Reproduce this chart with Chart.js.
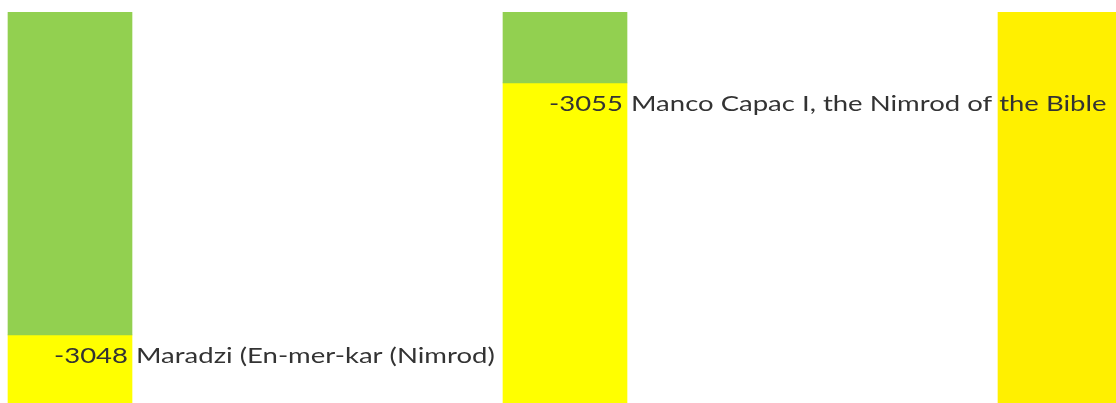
<!DOCTYPE html>
<html>
<head>
<meta charset="utf-8">
<script src="https://cdn.jsdelivr.net/npm/chart.js@4"></script>
<style>
  html, body { margin: 0; padding: 0; background: #ffffff; }
  #wrap { width: 1116px; height: 403px; position: relative; }
</style>
</head>
<body>
<div id="wrap"><canvas id="c"></canvas></div>
<script>
// Columns (timeline tracks) and periods (years, negative = BC)
const columns = [0, 1, 2];
const greenPeriods = [[-3060, -3048], [-3060, -3055]];      // columns 0 and 1
const yellowPeriods = [[-3048, -3040], [-3055, -3040]];     // columns 0 and 1
const goldPeriods = [[-3060, -3040]];                       // column 2
const eventYears = [-3048, -3055];
const eventColumns = [0, 1];
const eventNames = ["Maradzi (En-mer-kar (Nimrod)", "Manco Capac I, the Nimrod of the Bible"];

const BAR_W = 124;
const TEXT_SX = 1.25;

function toData(cols, periods) {
  return periods.map((p, i) => ({ x: cols[i], y: p }));
}

const labelPlugin = {
  id: 'eventLabels',
  afterDatasetsDraw(chart) {
    const ctx = chart.ctx;
    const xs = chart.scales.x, ys = chart.scales.y;
    eventYears.forEach((yr, i) => {
      const right = xs.getPixelForValue(columns[eventColumns[i]]) + BAR_W / 2;
      const y = ys.getPixelForValue(yr) + 28;
      ctx.save();
      ctx.font = '22px Lato';
      ctx.fillStyle = '#333333';
      ctx.textBaseline = 'alphabetic';
      ctx.translate(right, y);
      ctx.scale(TEXT_SX, 1);
      ctx.textAlign = 'right';
      ctx.fillText(String(yr), -4 / TEXT_SX, 0);
      ctx.textAlign = 'left';
      ctx.fillText(eventNames[i], 4 / TEXT_SX, 0);
      ctx.restore();
    });
  }
};

new Chart(document.getElementById('c'), {
  type: 'bar',
  data: {
    datasets: [
      { label: 'green', data: toData([columns[0], columns[1]], greenPeriods), backgroundColor: '#92D050' },
      { label: 'yellow', data: toData([columns[0], columns[1]], yellowPeriods), backgroundColor: '#FFFF00' },
      { label: 'gold', data: toData([columns[2]], goldPeriods), backgroundColor: '#FFF000' }
    ]
  },
  options: {
    responsive: true,
    maintainAspectRatio: false,
    animation: false,
    layout: { padding: { top: 12, left: 0, right: 0, bottom: 0 } },
    datasets: { bar: { grouped: false, barThickness: BAR_W, borderWidth: 0 } },
    plugins: { legend: { display: false }, tooltip: { enabled: false } },
    scales: {
      x: {
        type: 'linear', display: false, offset: false,
        min: -70 / 495, max: -70 / 495 + 1116 / 495,
        ticks: { stepSize: 1, includeBounds: false },
        grid: { display: false }
      },
      y: {
        type: 'linear', display: false, reverse: true,
        min: -3056.97, max: -3046.11,
        grid: { display: false }
      }
    }
  },
  plugins: [labelPlugin]
});
</script>
</body>
</html>
